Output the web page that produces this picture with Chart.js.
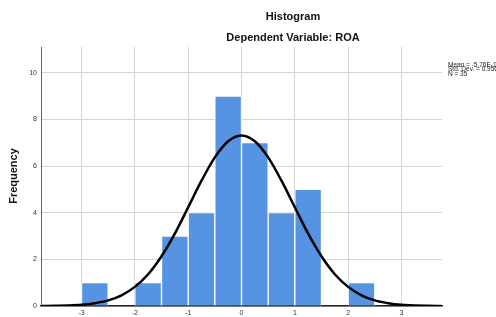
<!DOCTYPE html>
<html>
<head>
<meta charset="utf-8">
<script src="https://cdn.jsdelivr.net/npm/chart.js@4/dist/chart.umd.min.js"></script>
<style>
html,body{margin:0;padding:0;background:#fff;}
canvas{display:block;}
</style>
</head>
<body>
<canvas id="c" width="496" height="317"></canvas>
<script>
// Histogram bins (start of each 0.5-wide bin) and frequencies
const binStarts = [-3, -2.5, -2, -1.5, -1, -0.5, 0, 0.5, 1, 1.5, 2];
const binWidth = 0.5;
const frequencies = [1, 0, 1, 3, 4, 9, 7, 4, 5, 0, 1];

// Fitted normal curve
const curveX = [-3.75,-3.5,-3.25,-3,-2.75,-2.5,-2.25,-2,-1.75,-1.5,-1.25,-1,-0.75,-0.5,-0.25,0,0.25,0.5,0.75,1,1.25,1.5,1.75,2,2.25,2.5,2.75,3,3.25,3.5,3.75];
const curveY = [0.003,0.009,0.02,0.05,0.12,0.24,0.46,0.82,1.36,2.13,3.10,4.23,5.37,6.37,7.06,7.31,7.06,6.37,5.37,4.23,3.10,2.13,1.36,0.82,0.46,0.24,0.12,0.05,0.02,0.009,0.003];

const xTicks = [-3, -2, -1, 0, 1, 2, 3];
const yTicks = [0, 2, 4, 6, 8, 10];

const titleText = "Histogram";
const subtitleText = "Dependent Variable: ROA";
const yAxisTitle = "Frequency";
const statsLines = ["Mean = -5.76E-16", "Std. Dev. = 0.956", "N = 35"];

const barData = binStarts.map((s, i) => ({x: s + binWidth / 2, y: frequencies[i]}));
const lineData = curveX.map((x, i) => ({x: x, y: curveY[i]}));

const FONT = "'Liberation Sans', Arial, sans-serif";

const textPlugin = {
  id: 'texts',
  beforeDraw(chart) {
    const ctx = chart.ctx;
    ctx.save();
    ctx.fillStyle = '#fff';
    ctx.fillRect(0, 0, chart.width, chart.height);
    ctx.restore();
  },
  afterDraw(chart) {
    const ctx = chart.ctx;
    ctx.save();
    ctx.fillStyle = '#111';
    ctx.textAlign = 'center';
    ctx.textBaseline = 'middle';
    ctx.font = "bold 11px " + FONT;
    ctx.fillText(titleText, 293, 17);
    ctx.fillText(subtitleText, 293, 38);
    // y axis title
    ctx.save();
    ctx.translate(14, 176);
    ctx.rotate(-Math.PI / 2);
    ctx.font = "bold 11px " + FONT;
    ctx.fillText(yAxisTitle, 0, 0);
    ctx.restore();
    // stats box
    ctx.textAlign = 'left';
    ctx.textBaseline = 'middle';
    ctx.font = "6.5px " + FONT;
    ctx.fillStyle = '#222';
    statsLines.forEach((t, i) => ctx.fillText(t, 448, 65 + i * 4.6));
    ctx.restore();
  }
};

new Chart(document.getElementById('c'), {
  type: 'bar',
  data: {
    datasets: [
      {
        type: 'line',
        data: lineData,
        borderColor: '#000',
        borderWidth: 2.5,
        pointRadius: 0,
        tension: 0.4,
        cubicInterpolationMode: 'monotone',
        fill: false,
        order: 0
      },
      {
        type: 'bar',
        data: barData,
        backgroundColor: '#5694e3',
        borderColor: '#ffffff',
        borderWidth: 1,
        barPercentage: 1,
        categoryPercentage: 1,
        order: 1
      }
    ]
  },
  options: {
    responsive: false,
    animation: false,
    events: [],
    layout: {padding: {top: 47, right: 54, left: 0, bottom: 0}},
    plugins: {legend: {display: false}, tooltip: {enabled: false}, title: {display: false}},
    scales: {
      x: {
        type: 'linear',
        offset: false,
        min: -3.76,
        max: 3.76,
        afterBuildTicks(scale) { scale.ticks = xTicks.map(v => ({value: v})); },
        afterFit(scale) { scale.height = 11; },
        grid: {color: '#d6d6d6', lineWidth: 1, drawTicks: false, offset: false},
        border: {display: true, color: '#222', width: 1.5},
        ticks: {
          padding: 3,
          font: {family: FONT, size: 7},
          color: '#333',
          maxRotation: 0,
          callback: v => String(v)
        }
      },
      y: {
        type: 'linear',
        min: 0,
        max: 11.1,
        afterBuildTicks(scale) { scale.ticks = yTicks.map(v => ({value: v})); },
        afterFit(scale) { scale.width = 41; },
        grid: {color: '#d6d6d6', lineWidth: 1, drawTicks: false},
        border: {display: true, color: '#666', width: 1},
        ticks: {
          padding: 4,
          font: {family: FONT, size: 7},
          color: '#333',
          callback: v => String(v)
        }
      }
    }
  },
  plugins: [textPlugin]
});
</script>
</body>
</html>
